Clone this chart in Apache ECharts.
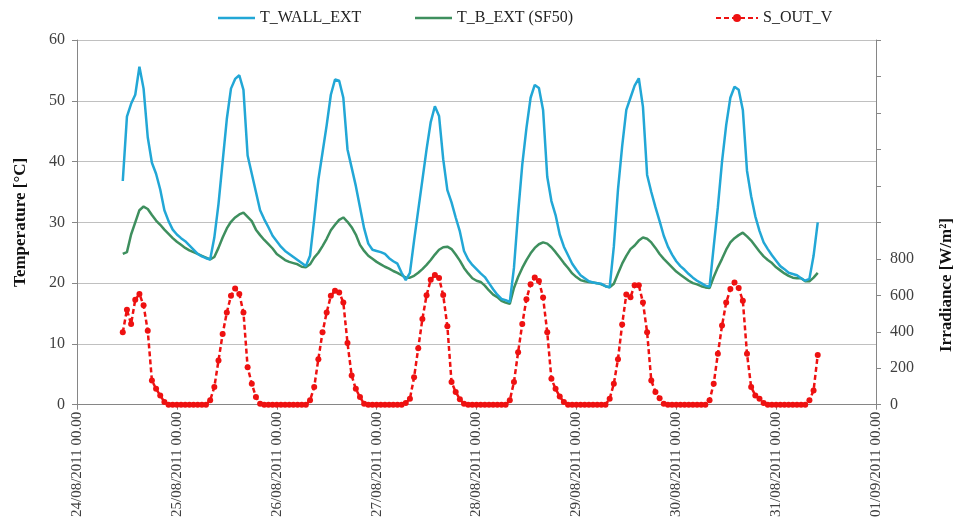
<!DOCTYPE html>
<html>
<head>
<meta charset="utf-8">
<script src="https://cdn.jsdelivr.net/npm/echarts@6/dist/echarts.min.js"></script>
<style>
  html, body { margin: 0; padding: 0; background: #fff; }
  #chart { width: 962px; height: 520px; }
</style>
</head>
<body>
<div id="chart"></div>
<script>
// Day tick labels of the time axis (one every 24 h)
const dayLabels = [
  '24/08/2011 00.00', '25/08/2011 00.00', '26/08/2011 00.00',
  '27/08/2011 00.00', '28/08/2011 00.00', '29/08/2011 00.00',
  '30/08/2011 00.00', '31/08/2011 00.00', '01/09/2011 00.00'
];

// Hourly samples start at 24/08/2011 11:00 (hours counted from 24/08 00:00)
const firstHour = 11;

// External wall surface temperature [°C]
const wallExt = [
  36.8, 47.4, 49.5, 51.0, 55.6, 52.0, 44.0, 39.8, 38.0, 35.4,
  32.0, 30.2, 28.8, 28.0, 27.4, 26.9, 26.2, 25.5, 24.8, 24.4,
  24.1, 23.9, 27.5, 33.0, 40.0, 47.0, 52.0, 53.6, 54.2, 51.8,
  41.0, 38.0, 35.0, 32.0, 30.5, 29.2, 27.8, 26.9, 26.0, 25.3,
  24.8, 24.3, 23.8, 23.3, 22.8, 24.5, 30.5, 37.0, 41.5, 46.0,
  51.0, 53.5, 53.3, 50.5, 42.0, 39.0, 36.0, 32.5, 29.0, 26.5,
  25.5, 25.3, 25.1, 24.8, 24.1, 23.6, 23.2, 21.7, 20.5, 21.7,
  27.0, 32.0, 37.0, 42.0, 46.5, 49.1, 47.5, 40.4, 35.3, 33.3,
  30.8, 28.5, 25.3, 23.9, 23.0, 22.3, 21.6, 21.0, 20.0, 19.0,
  18.1, 17.4, 17.2, 16.9, 22.5, 31.5, 39.5, 45.5, 50.5, 52.6,
  52.1, 48.5, 37.5, 33.5, 31.2, 28.0, 26.0, 24.6, 23.2, 22.2,
  21.3, 20.8, 20.3, 20.1, 20.0, 19.9, 19.5, 19.3, 26.0, 35.4,
  42.5, 48.5, 50.5, 52.5, 53.7, 49.0, 37.8, 35.0, 32.5, 30.2,
  27.8, 26.0, 24.7, 23.6, 22.8, 22.2, 21.5, 20.9, 20.4, 20.0,
  19.6, 19.4, 26.0, 32.5, 40.0, 46.0, 50.5, 52.3, 51.8, 48.5,
  38.5, 34.3, 31.0, 28.6, 26.7, 25.6, 24.6, 23.7, 22.8, 22.3,
  21.7, 21.5, 21.3, 20.8, 20.4, 20.7, 24.5, 30.0
];

// Temperature behind the external layer, SF50 [°C]
const bExt = [
  24.8, 25.1, 28.0, 30.0, 32.0, 32.6, 32.2, 31.2, 30.3, 29.6,
  28.8, 28.1, 27.4, 26.8, 26.3, 25.8, 25.4, 25.1, 24.8, 24.5,
  24.2, 23.9, 24.3, 25.8, 27.5, 29.0, 30.1, 30.8, 31.3, 31.6,
  30.9, 30.2, 28.8, 27.9, 27.1, 26.4, 25.7, 24.8, 24.3, 23.8,
  23.5, 23.3, 23.1, 22.7, 22.6, 23.1, 24.2, 25.0, 26.1, 27.3,
  28.7, 29.6, 30.4, 30.8, 30.1, 29.2, 28.0, 26.3, 25.3, 24.5,
  24.0, 23.5, 23.1, 22.7, 22.4, 22.0, 21.7, 21.3, 20.9, 20.9,
  21.2, 21.7, 22.3, 23.0, 23.8, 24.7, 25.5, 25.9, 26.0, 25.6,
  24.7, 23.7, 22.5, 21.6, 20.8, 20.4, 20.2, 19.6, 18.8, 18.1,
  17.7, 17.1, 16.8, 16.6, 19.2, 21.0, 22.5, 23.8, 24.9, 25.8,
  26.4, 26.7, 26.5, 25.9, 25.1, 24.2, 23.3, 22.5, 21.6, 21.0,
  20.5, 20.3, 20.2, 20.1, 20.0, 19.8, 19.5, 19.3, 19.9, 21.6,
  23.2, 24.5, 25.6, 26.2, 27.0, 27.5, 27.3, 26.7, 25.8, 24.8,
  24.0, 23.3, 22.6, 21.9, 21.4, 20.9, 20.4, 20.0, 19.8, 19.5,
  19.3, 19.2, 21.0, 22.6, 24.0, 25.5, 26.7, 27.4, 27.9, 28.3,
  27.7, 27.0, 26.1, 25.2, 24.4, 23.8, 23.3, 22.6, 22.1, 21.6,
  21.2, 20.9, 20.8, 20.8, 20.3, 20.3, 20.9, 21.7
];

// Solar irradiance on the vertical outdoor surface [W/m2]
const sOutV = [
  397, 521, 443, 576, 607, 545, 405, 133, 87, 51,
  15, 0, 0, 0, 0, 0, 0, 0, 0, 0,
  0, 24, 97, 242, 388, 506, 597, 638, 607, 506,
  206, 115, 42, 5, 0, 0, 0, 0, 0, 0,
  0, 0, 0, 0, 0, 24, 97, 250, 397, 506,
  597, 625, 616, 561, 339, 160, 87, 42, 5, 0,
  0, 0, 0, 0, 0, 0, 0, 0, 10, 33,
  150, 310, 470, 600, 685, 712, 695, 601, 430, 124,
  70, 30, 5, 0, 0, 0, 0, 0, 0, 0,
  0, 0, 0, 24, 124, 288, 443, 579, 661, 698,
  679, 588, 397, 142, 87, 45, 15, 0, 0, 0,
  0, 0, 0, 0, 0, 0, 0, 33, 115, 250,
  440, 605, 590, 655, 655, 561, 397, 133, 70, 35,
  5, 0, 0, 0, 0, 0, 0, 0, 0, 0,
  0, 24, 115, 279, 434, 560, 634, 670, 640, 570,
  280, 97, 51, 33, 10, 0, 0, 0, 0, 0,
  0, 0, 0, 0, 0, 24, 78, 273
];

const irradianceLabelMax = 800;

const withHours = arr => arr.map((v, i) => [firstHour + i, v]);

const serif = '"Liberation Serif", "Times New Roman", serif';
const axisGray = '#868686';
const labelColor = '#404040';
const blue = '#22a7d6';
const green = '#3e8f5e';
const red = '#ee1111';

const legendText = { fontFamily: serif, fontSize: 16, color: '#222' };
const legendTop = 5;

const chart = echarts.init(document.getElementById('chart'), null, { renderer: 'canvas' });

chart.setOption({
  backgroundColor: '#ffffff',
  animation: false,
  grid: { left: 77, right: 86, top: 40, bottom: 114 },
  legend: [
    {
      data: [{ name: 'T_WALL_EXT', icon: 'rect', itemStyle: { color: blue } }],
      left: 213, top: legendTop, itemWidth: 37, itemHeight: 2.5,
      textStyle: legendText
    },
    {
      data: [{ name: 'T_B_EXT (SF50)', icon: 'rect', itemStyle: { color: green } }],
      left: 410, top: legendTop, itemWidth: 37, itemHeight: 2.5,
      textStyle: legendText
    },
    {
      data: ['S_OUT_V'], left: 710, top: legendTop, itemWidth: 42, itemHeight: 10,
      textStyle: legendText
    }
  ],
  xAxis: {
    type: 'value',
    min: 0,
    max: (dayLabels.length - 1) * 24,
    interval: 24,
    axisLine: { show: true, lineStyle: { color: axisGray, width: 1 } },
    axisTick: { show: true, length: 5, lineStyle: { color: axisGray } },
    splitLine: { show: false },
    axisLabel: {
      rotate: 90,
      margin: 7,
      fontFamily: serif,
      fontSize: 15,
      color: labelColor,
      showMinLabel: true,
      showMaxLabel: true,
      formatter: v => dayLabels[Math.round(v / 24)] || ''
    }
  },
  yAxis: [
    {
      type: 'value',
      min: 0, max: 60, interval: 10,
      position: 'left',
      name: 'Temperature [°C]',
      nameLocation: 'middle',
      nameGap: 48,
      nameTextStyle: { fontFamily: serif, fontSize: 17, fontWeight: 'bold', color: '#111' },
      axisLine: { show: true, lineStyle: { color: axisGray, width: 1 } },
      axisTick: { show: true, length: 5, lineStyle: { color: axisGray } },
      splitLine: { show: true, lineStyle: { color: '#c0c0c0', width: 1.2 } },
      axisLabel: { fontFamily: serif, fontSize: 16, color: labelColor, margin: 12 }
    },
    {
      type: 'value',
      min: 0, max: 2000, interval: 200,
      position: 'right',
      axisLine: { show: true, lineStyle: { color: axisGray, width: 1 } },
      axisTick: { show: true, length: 5, lineStyle: { color: axisGray } },
      splitLine: { show: false },
      axisLabel: {
        fontFamily: serif, fontSize: 16, color: labelColor, margin: 14,
        formatter: v => (v <= irradianceLabelMax ? String(v) : '')
      }
    }
  ],
  graphic: [
    {
      type: 'text',
      x: 947, y: 285,
      rotation: Math.PI / 2,
      style: {
        text: 'Irradiance [W/m²]',
        font: 'bold 17px ' + serif,
        fill: '#111',
        align: 'center',
        verticalAlign: 'middle'
      }
    }
  ],
  series: [
    {
      name: 'T_WALL_EXT',
      type: 'line',
      yAxisIndex: 0,
      data: withHours(wallExt),
      symbol: 'none',
      color: blue,
      lineStyle: { width: 2.5, color: blue },
      z: 3
    },
    {
      name: 'T_B_EXT (SF50)',
      type: 'line',
      yAxisIndex: 0,
      data: withHours(bExt),
      symbol: 'none',
      color: green,
      lineStyle: { width: 2.5, color: green },
      z: 2
    },
    {
      name: 'S_OUT_V',
      type: 'line',
      yAxisIndex: 1,
      data: withHours(sOutV),
      symbol: 'circle',
      symbolSize: 6,
      color: red,
      itemStyle: { color: red },
      lineStyle: { width: 2.5, color: red, type: [5, 3] },
      z: 4
    }
  ]
});
</script>
</body>
</html>
